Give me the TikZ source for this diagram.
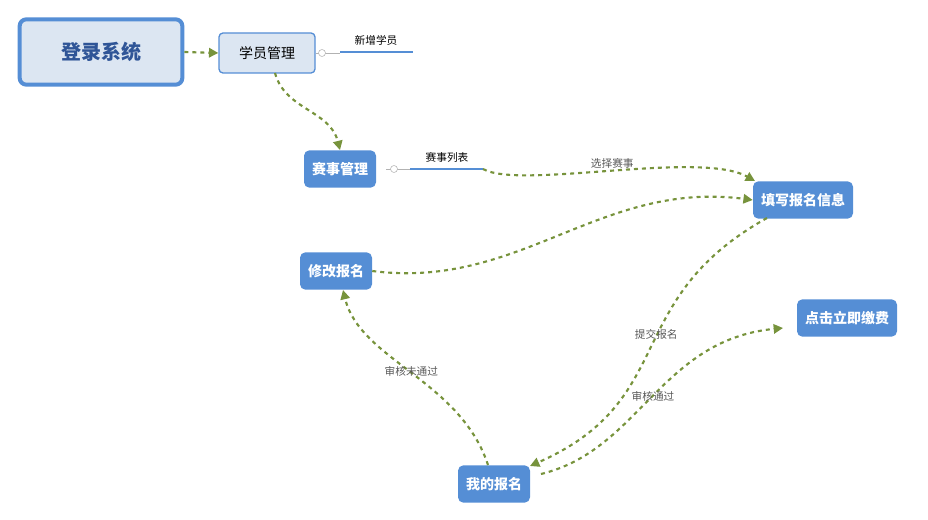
\documentclass[tikz,border=0pt]{standalone}
\usepackage{fontspec}
\setmainfont{Noto Sans CJK SC}
\usetikzlibrary{arrows.meta}
\definecolor{boxblue}{HTML}{558ED5}
\definecolor{lightblue}{HTML}{DCE6F2}
\definecolor{darkblue}{HTML}{2F5597}
\definecolor{olive}{HTML}{77933C}
\tikzset{
  rootbox/.style={draw=boxblue, line width=3pt, fill=lightblue, rounded corners=5pt,
    minimum width=122pt, minimum height=49pt, text=darkblue, font=\bfseries\fontsize{15}{17}\selectfont},
  subbox/.style={draw=boxblue, line width=1pt, fill=lightblue, rounded corners=3pt,
    minimum width=72pt, minimum height=30pt, font=\fontsize{10.5}{12}\selectfont},
  taskbox/.style={fill=boxblue, rounded corners=4pt, minimum height=28pt, inner xsep=6pt,
    text=white, font=\bfseries\fontsize{10.5}{12}\selectfont},
  leaf/.style={font=\fontsize{8}{9}\selectfont},
  flow/.style={draw=olive, line width=1.6pt, dashed, -{Triangle[length=7pt,width=7pt]}},
  tag/.style={font=\itshape\fontsize{8}{9}\selectfont, text=black!65}
}
\begin{document}
\begin{tikzpicture}[x=0.75pt,y=-0.75pt]
\useasboundingbox (0,0) rectangle (928,520);

\node[rootbox] (login) at (101,52) {登录系统};
\node[subbox] (student) at (267,53) {学员管理};
\node[taskbox] (match) at (340,169) {赛事管理};
\node[taskbox] (fill) at (803,200) {填写报名信息};
\node[taskbox] (modify) at (336,271) {修改报名};
\node[taskbox] (pay) at (847,318) {点击立即缴费};
\node[taskbox] (mine) at (494,484) {我的报名};

% branches
\node[leaf] (addstu) at (376,40) {新增学员};
\draw[boxblue, line width=1.5pt] (340,52) -- (413,52);
\draw[gray!60] (316,53) -- (340,53);
\draw[gray!60, fill=white] (322,53) circle[radius=3.5];
\node[leaf] (list) at (447,157) {赛事列表};
\draw[boxblue, line width=1.5pt] (410,169) -- (483,169);
\coordinate (listend) at (483,169);
\draw[gray!60] (386,169) -- (410,169);
\draw[gray!60, fill=white] (394,169) circle[radius=3.5];

% flows
\draw[flow] (login.east) -- (student.west);
\draw[flow] (275,73) .. controls (285,110) and (330,110) .. (match.north);
\draw[flow] (listend) .. controls (520,190) and (700,150) .. (755,181)
  node[tag, pos=0.5, above=-2pt] {选择赛事};
\draw[flow] (modify.east) .. controls (520,290) and (600,180) .. (fill.west);
\draw[flow] (767,218) .. controls (620,300) and (680,400) .. (530,466)
  node[tag, pos=0.45] {提交报名};
\draw[flow] (541,474) .. controls (640,450) and (660,340) .. (783,328)
  node[tag, pos=0.5] {审核通过};
\draw[flow] (488,465) .. controls (460,380) and (360,360) .. (343,290)
  node[tag, pos=0.5] {审核未通过};
\end{tikzpicture}
\end{document}
